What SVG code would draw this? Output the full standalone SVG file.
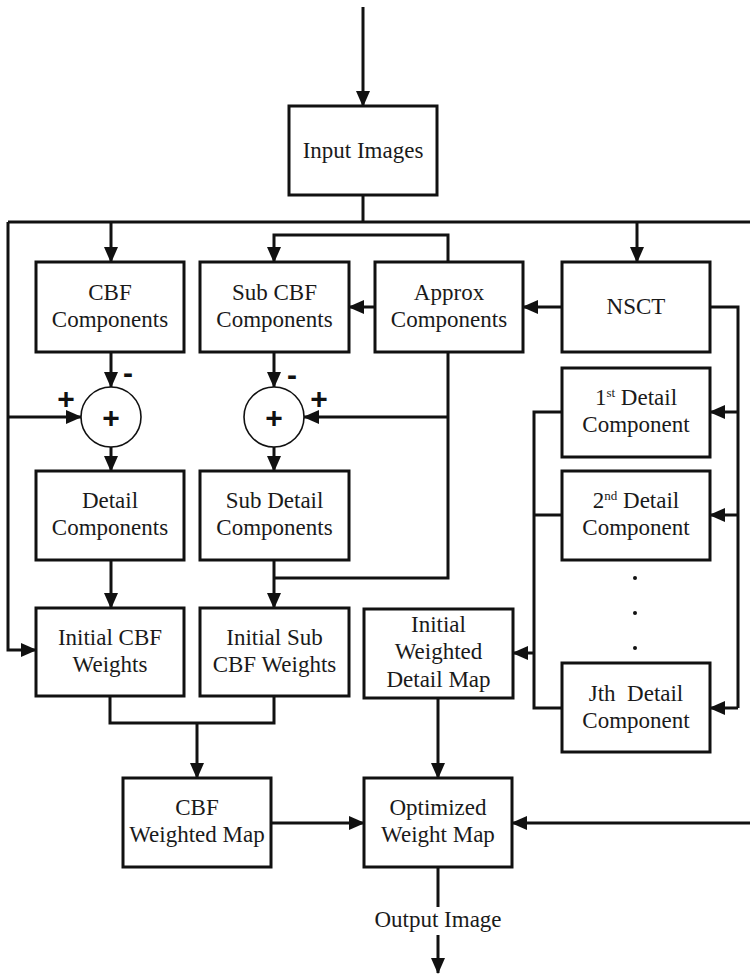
<svg xmlns="http://www.w3.org/2000/svg" width="750" height="975" viewBox="0 0 750 975">
<style>
.box{fill:#fff;stroke:#111;stroke-width:3}
.ln{fill:none;stroke:#111;stroke-width:3}
.arr{fill:none;stroke:#111;stroke-width:3;marker-end:url(#ah)}
.t{font-family:"Liberation Serif","Times New Roman",serif;font-size:23px;fill:#1a1a1a;text-anchor:middle}
.sup{font-size:13px}
.sg{font-family:"Liberation Sans",Arial,sans-serif;font-weight:bold;font-size:30px;fill:#111;text-anchor:middle}
.circ{fill:#fff;stroke:#111;stroke-width:1.6}
</style>
<defs>
<marker id="ah" markerUnits="userSpaceOnUse" markerWidth="16" markerHeight="16" viewBox="0 0 16 16" refX="15" refY="8" orient="auto">
<path d="M0,1 L16,8 L0,15 Z" fill="#111"/>
</marker>
</defs>
<rect width="750" height="975" fill="#fff"/>
<g id="connectors">
<path class="arr" d="M363,7 V106"/>
<path class="ln" d="M363,195 V222"/>
<path class="ln" d="M8,222 H750"/>
<path class="arr" d="M111,222 V262"/>
<path class="arr" d="M637,222 V262"/>
<path class="arr" d="M8,222 V650 H36"/>
<path class="arr" d="M8,417 H81"/>
<path class="arr" d="M448,262 V235 H274 V262"/>
<path class="arr" d="M562,307 H523"/>
<path class="arr" d="M375,307 H349"/>
<path class="arr" d="M111,352 V387"/>
<path class="arr" d="M274,352 V387"/>
<path class="ln" d="M448,352 V578 H274"/>
<path class="arr" d="M448,417 H304"/>
<path class="arr" d="M111,447 V471"/>
<path class="arr" d="M274,447 V471"/>
<path class="arr" d="M111,560 V608"/>
<path class="arr" d="M274,560 V608"/>
<path class="ln" d="M710,307 H738 V708"/>
<path class="arr" d="M738,412 H710"/>
<path class="arr" d="M738,515 H710"/>
<path class="arr" d="M738,708 H710"/>
<path class="ln" d="M562,412 H534 V708 H562"/>
<path class="ln" d="M562,515 H534"/>
<path class="arr" d="M534,653 H513"/>
<path class="ln" d="M110,696 V723 H274 V696"/>
<path class="arr" d="M197,723 V778"/>
<path class="arr" d="M271,823 H364"/>
<path class="arr" d="M438,698 V778"/>
<path class="arr" d="M750,823 H512"/>
<path class="ln" d="M438,867 V907"/>
<path class="arr" d="M438,935 V973"/>
</g>
<g id="input-images"><rect class="box" x="289" y="106" width="148" height="89"/><text class="t" x="363" y="158">Input Images</text></g>
<g id="cbf-components"><rect class="box" x="36" y="262" width="148" height="90"/><text class="t" x="110" y="300">CBF</text><text class="t" x="110" y="327">Components</text></g>
<g id="sub-cbf-components"><rect class="box" x="200" y="262" width="149" height="90"/><text class="t" x="274.5" y="300">Sub CBF</text><text class="t" x="274.5" y="327">Components</text></g>
<g id="approx-components"><rect class="box" x="375" y="262" width="148" height="90"/><text class="t" x="449" y="300">Approx</text><text class="t" x="449" y="327">Components</text></g>
<g id="nsct"><rect class="box" x="562" y="262" width="148" height="90"/><text class="t" x="636" y="314">NSCT</text></g>
<g id="sum1"><circle class="circ" cx="111" cy="417" r="30"/><text class="sg" x="111" y="428">+</text><text class="sg" x="128" y="383">-</text><text class="sg" x="66" y="409">+</text></g>
<g id="sum2"><circle class="circ" cx="274" cy="417" r="30"/><text class="sg" x="274" y="428">+</text><text class="sg" x="292" y="385">-</text><text class="sg" x="319" y="409">+</text></g>
<g id="detail-1"><rect class="box" x="562" y="368" width="148" height="89"/><text class="t" x="636" y="405">1<tspan class="sup" dy="-8">st</tspan><tspan dy="8"> Detail</tspan></text><text class="t" x="636" y="432">Component</text></g>
<g id="detail-2"><rect class="box" x="562" y="471" width="148" height="89"/><text class="t" x="636" y="508">2<tspan class="sup" dy="-8">nd</tspan><tspan dy="8"> Detail</tspan></text><text class="t" x="636" y="535">Component</text></g>
<g id="dots"><circle cx="635" cy="578" r="2" fill="#111"/><circle cx="635" cy="613" r="2" fill="#111"/><circle cx="635" cy="648" r="2" fill="#111"/></g>
<g id="detail-j"><rect class="box" x="562" y="663" width="148" height="89"/><text class="t" x="636" y="701" xml:space="preserve">Jth  Detail</text><text class="t" x="636" y="728">Component</text></g>
<g id="detail-components"><rect class="box" x="36" y="471" width="148" height="89"/><text class="t" x="110" y="508">Detail</text><text class="t" x="110" y="535">Components</text></g>
<g id="sub-detail-components"><rect class="box" x="200" y="471" width="149" height="89"/><text class="t" x="274.5" y="508">Sub Detail</text><text class="t" x="274.5" y="535">Components</text></g>
<g id="initial-cbf-weights"><rect class="box" x="36" y="608" width="148" height="88"/><text class="t" x="110" y="645">Initial CBF</text><text class="t" x="110" y="672">Weights</text></g>
<g id="initial-sub-cbf-weights"><rect class="box" x="200" y="608" width="149" height="88"/><text class="t" x="274.5" y="645">Initial Sub</text><text class="t" x="274.5" y="672">CBF Weights</text></g>
<g id="initial-weighted-detail-map"><rect class="box" x="364" y="609" width="149" height="89"/><text class="t" x="438.5" y="632">Initial</text><text class="t" x="438.5" y="659">Weighted</text><text class="t" x="438.5" y="687">Detail Map</text></g>
<g id="cbf-weighted-map"><rect class="box" x="123" y="778" width="148" height="89"/><text class="t" x="197" y="815">CBF</text><text class="t" x="197" y="842">Weighted Map</text></g>
<g id="optimized-weight-map"><rect class="box" x="364" y="778" width="148" height="89"/><text class="t" x="438" y="815">Optimized</text><text class="t" x="438" y="842">Weight Map</text></g>
<g id="output-label"><text class="t" x="438" y="927">Output Image</text></g>
</svg>
